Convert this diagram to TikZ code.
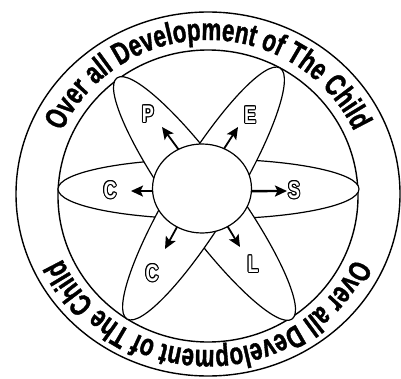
\documentclass[tikz,border=0pt]{standalone}
\usepackage{fontspec}
\setmainfont{Liberation Sans}
\newfontfamily\arcfont{Liberation Sans}[FakeStretch=0.72,FakeBold=1.2]
\newfontfamily\letfont{Liberation Sans}[FakeStretch=0.75]
\usetikzlibrary{decorations.text,arrows.meta,shapes.geometric,calc}
\begin{document}
\begin{tikzpicture}[x=1pt,y=1pt,
  ring/.style={line width=1.4pt},
  petal/.style={draw, line width=1.2pt, fill=white, ellipse, inner sep=0pt, outer sep=0pt},
  arr/.style={line width=1.8pt, -{Stealth[length=12pt,width=11pt,inset=2.5pt]}},
  lbl/.style={inner sep=0pt, font=\letfont\bfseries\fontsize{24}{26}\selectfont},
  arctext/.style={decorate, decoration={text along path, text align=center,
     text={|\arcfont\bfseries\fontsize{31}{33}\selectfont|Over all Development of The Child}}}
]
\newcommand\hollowlabel[3]{%
  \foreach \ang in {0,30,...,330}{\node[lbl, text=black] (#1-\ang) at ($#2+(\ang:1.0)$) {#3};}
  \node[lbl, text=white] (#1) at #2 {#3};}
\useasboundingbox (0,0) rectangle (401,378);
% rings
\draw[ring] (208,184) ellipse [x radius=192, y radius=182];
\draw[ring] (208,182) ellipse [x radius=150, y radius=146];
% curved texts
\path[arctext] (208,183) ++(175:160 and 155) arc[start angle=175, end angle=5, x radius=160, y radius=155];
\path[arctext] (208,183) ++(-5:160 and 155) arc[start angle=-5, end angle=-175, x radius=160, y radius=155];
% petals
\node[petal, minimum width=301pt, minimum height=60pt] (hp) at (208.5,189) {};
\node[petal, minimum width=298pt, minimum height=61pt, rotate=-54] (pl) at (204.5,179.5) {};
\node[petal, minimum width=294pt, minimum height=61pt, rotate=58.6] (ec) at (203.5,184.5) {};
% center
\node[petal, minimum width=99pt, minimum height=89pt] (c) at (202,189.5) {};
% arrow ends
\coordinate (tP) at (162,251);
\coordinate (tE) at (238,251);
\coordinate (tS) at (287,187);
\coordinate (tC) at (131,187);
\coordinate (tLC) at (165,129);
\coordinate (tL) at (240,131);
\draw[arr] (c.121.7) -- (tP);
\draw[arr] (c.61.5) -- (tE);
\draw[arr, line width=2.4pt] (c.-3) -- (tS);
\draw[arr] (c.183) -- (tC);
\draw[arr] (c.237.7) -- (tLC);
\draw[arr] (c.-56) -- (tL);
% labels
\hollowlabel{lP}{(148,264)}{P}
\hollowlabel{lE}{(250,263)}{E}
\hollowlabel{lS}{(294,188)}{S}
\hollowlabel{lC}{(110,188)}{C}
\hollowlabel{lCb}{(152,105)}{C}
\hollowlabel{lL}{(253,114)}{L}
\end{tikzpicture}
\end{document}
